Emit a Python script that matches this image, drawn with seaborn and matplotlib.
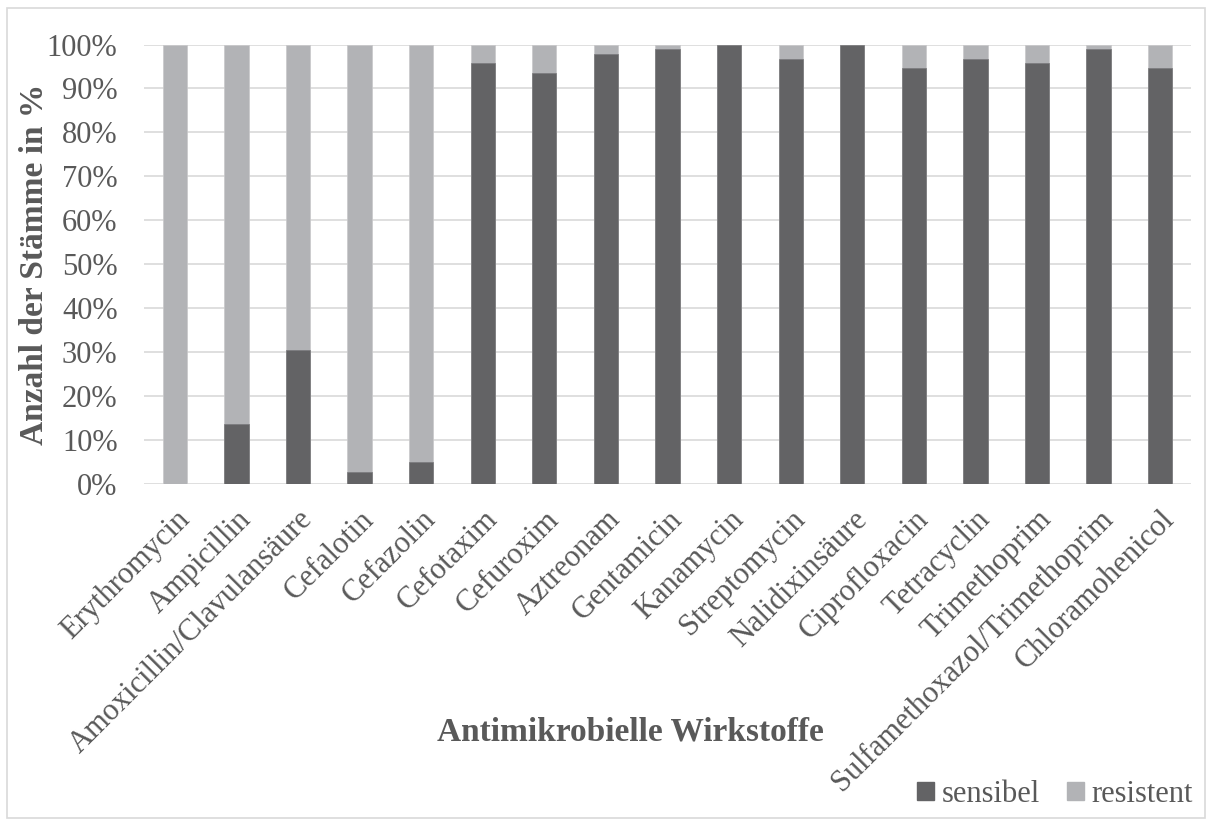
import matplotlib
matplotlib.use("Agg")
import matplotlib.pyplot as plt
from matplotlib.patches import Rectangle
from matplotlib.ticker import PercentFormatter
import seaborn as sns
import pandas as pd

# Antimicrobial agents tested
wirkstoffe = [
    "Erythromycin", "Ampicillin", "Amoxicillin/Clavulansäure", "Cefalotin",
    "Cefazolin", "Cefotaxim", "Cefuroxim", "Aztreonam", "Gentamicin",
    "Kanamycin", "Streptomycin", "Nalidixinsäure", "Ciprofloxacin",
    "Tetracyclin", "Trimethoprim", "Sulfamethoxazol/Trimethoprim",
    "Chloramohenicol",
]
# Share of susceptible strains (%)
sensibel = [0.0, 13.7, 30.6, 2.8, 5.1, 95.8, 93.6, 97.9, 98.9, 100.0,
            96.7, 100.0, 94.7, 96.7, 95.8, 98.9, 94.7]
# Share of resistant strains (%)
resistent = [100.0 - s for s in sensibel]

y_ticks = [0, 10, 20, 30, 40, 50, 60, 70, 80, 90, 100]

DARK = "#636365"
LIGHT = "#b2b3b6"
TEXT = "#595959"
GRID = "#d9d9d9"

sns.set_theme(style="white")
plt.rcParams["font.family"] = ["Liberation Serif", "DejaVu Serif"]

df = pd.DataFrame({
    "Wirkstoff": wirkstoffe,
    "sensibel": sensibel,
    "resistent": resistent,
})
df["gesamt"] = df["sensibel"] + df["resistent"]

fig = plt.figure(figsize=(12.12, 8.25), dpi=100)
ax = fig.add_axes([0.1188, 0.4133, 0.8639, 0.5327])

bar_w = 0.395
# stacked: full height in the light tone, susceptible part on top of it in dark
sns.barplot(data=df, x="Wirkstoff", y="gesamt", color=LIGHT, saturation=1,
            width=bar_w, ax=ax, edgecolor="#c8c8ca", linewidth=0.5, zorder=3)
sns.barplot(data=df, x="Wirkstoff", y="sensibel", color=DARK, saturation=1,
            width=bar_w, ax=ax, edgecolor="#7a7a7c", linewidth=0.5, zorder=4)

ax.set_xlim(-0.5, len(wirkstoffe) - 0.5)
ax.set_ylim(0, 100)
ax.set_yticks(y_ticks)
ax.yaxis.set_major_formatter(PercentFormatter(decimals=0))
ax.grid(axis="y", color=GRID, linewidth=1.2, zorder=0)
ax.set_axisbelow(True)
for sp in ax.spines.values():
    sp.set_visible(False)

ax.tick_params(axis="y", length=0, pad=19, labelsize=22, labelcolor=TEXT)
ax.tick_params(axis="x", length=0, pad=15, labelsize=22, labelcolor=TEXT)
for lab in ax.get_xticklabels():
    lab.set_rotation(45)
    lab.set_ha("right")
    lab.set_va("top")
    lab.set_rotation_mode("anchor")

ax.set_ylabel("Anzahl der Stämme in %", fontsize=24, fontweight="bold",
              color=TEXT)
ax.yaxis.set_label_coords(-0.09, 0.5)
ax.set_xlabel("")
fig.text(0.3606, 0.103, "Antimikrobielle Wirkstoffe", ha="left",
         va="baseline", fontsize=24, fontweight="bold", color=TEXT)

handles = [Rectangle((0, 0), 1, 1, color=DARK), Rectangle((0, 0), 1, 1, color=LIGHT)]
leg = fig.legend(handles, ["sensibel", "resistent"], loc="center right",
                 bbox_to_anchor=(0.9843, 0.037), ncol=2, frameon=False,
                 fontsize=22, handlelength=0.55, handleheight=0.55,
                 handletextpad=0.26, columnspacing=0.88, borderpad=0,
                 borderaxespad=0, labelcolor=TEXT)

# light frame around the whole chart
fig.patches.append(Rectangle((0.0058, 0.008), 0.9884, 0.982,
                             transform=fig.transFigure, fill=False,
                             edgecolor=GRID, linewidth=1.2))

fig.savefig("out.png", dpi=100)
